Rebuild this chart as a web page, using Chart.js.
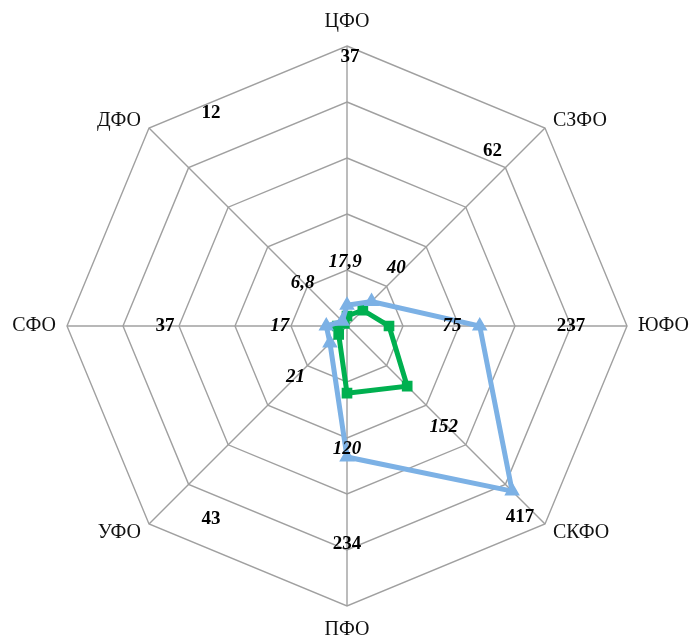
<!DOCTYPE html>
<html>
<head>
<meta charset="utf-8">
<script src="https://cdn.jsdelivr.net/npm/chart.js@4/dist/chart.umd.min.js"></script>
<style>
  html, body { margin: 0; padding: 0; background: #fff; }
  #wrap { width: 690px; height: 641px; position: relative; }
</style>
</head>
<body>
<div id="wrap"><canvas id="radar"></canvas></div>
<script>
// Федеральные округа
const regions = ['ЦФО', 'СЗФО', 'ЮФО', 'СКФО', 'ПФО', 'УФО', 'СФО', 'ДФО'];
// внешний ряд (голубой)
const blueValues = [37, 62, 237, 417, 234, 43, 37, 12];
// внутренний ряд (зелёный)
const greenValues = [17.9, 40, 75, 152, 120, 21, 17, 6.8];
const scaleMax = 500;
const scaleStep = 100;

// где рисовать подписи: доля радиуса вдоль оси и сдвиг поперёк (px)
const labelPlace = [
  { along: [0.96, 0.81, 0.80, 0.92, 0.78, 0.83, 0.65, 0.88], side: [3, -21, 0, 13, 0, -40, 0, 54], font: 'bold 19px "Liberation Serif"' },
  { along: [0.23, 0.27, 0.375, 0.50, 0.44, 0.26, 0.24, 0.22], side: [-2, -6, 0, 3, 0, 0, 0, -1], font: 'italic bold 19px "Liberation Serif"' }
];

// подписи значений у осей
const valueLabels = {
  id: 'valueLabels',
  afterDatasetsDraw(chart) {
    const { ctx } = chart;
    const r = chart.scales.r;
    chart.data.datasets.forEach((ds, di) => {
      const place = labelPlace[di];
      ds.data.forEach((v, i) => {
        const p = r.getPointPosition(i, place.along[i] * r.drawingArea);
        const a = p.angle;
        const x = p.x - Math.sin(a) * place.side[i];
        const y = p.y + Math.cos(a) * place.side[i];
        ctx.save();
        ctx.font = place.font;
        ctx.fillStyle = '#000';
        ctx.textAlign = 'center';
        ctx.textBaseline = 'middle';
        ctx.fillText(String(v).replace('.', ','), x, y);
        ctx.restore();
      });
    });
  }
};

// названия округов рядом с вершинами (как в Excel)
const axisNames = {
  id: 'axisNames',
  afterDraw(chart) {
    const { ctx } = chart;
    const r = chart.scales.r;
    ctx.save();
    ctx.font = '20px "Liberation Serif"';
    ctx.fillStyle = '#111';
    ctx.textBaseline = 'middle';
    chart.data.labels.forEach((name, i) => {
      const p = r.getPointPosition(i, r.drawingArea);
      const sx = Math.cos(p.angle), sy = Math.sin(p.angle);
      let x = p.x, y = p.y;
      if (Math.abs(sx) < 0.1) {
        ctx.textAlign = 'center';
        y += sy * 24;
      } else {
        ctx.textAlign = sx > 0 ? 'left' : 'right';
        const diag = Math.abs(sy) > 0.1;
        x += Math.sign(sx) * (diag ? 8 : 11);
        if (diag) y += sy < 0 ? -7 : 9;
      }
      ctx.fillText(name, x, y);
    });
    ctx.restore();
  }
};

new Chart(document.getElementById('radar'), {
  type: 'radar',
  data: {
    labels: regions,
    datasets: [
      {
        label: 'blue',
        data: blueValues,
        borderColor: '#7cb1e5',
        backgroundColor: 'transparent',
        borderWidth: 5,
        pointStyle: 'triangle',
        pointRadius: 4,
        pointBackgroundColor: '#7cb1e5',
        pointBorderColor: '#7cb1e5'
      },
      {
        label: 'green',
        data: greenValues,
        borderColor: '#00b050',
        backgroundColor: 'transparent',
        borderWidth: 5,
        pointStyle: 'rect',
        pointRadius: 4,
        pointBackgroundColor: '#00b050',
        pointBorderColor: '#00b050'
      }
    ]
  },
  options: {
    responsive: true,
    maintainAspectRatio: false,
    animation: false,
    layout: { padding: { top: 46, bottom: 35, left: 47, right: 43 } },
    plugins: {
      legend: { display: false },
      tooltip: { enabled: false }
    },
    scales: {
      r: {
        min: 0,
        max: scaleMax,
        ticks: { stepSize: scaleStep, display: false },
        grid: { color: '#a0a0a0', lineWidth: 1.4 },
        angleLines: { color: '#a0a0a0', lineWidth: 1.4 },
        pointLabels: { display: false }
      }
    }
  },
  plugins: [valueLabels, axisNames]
});
</script>
</body>
</html>
